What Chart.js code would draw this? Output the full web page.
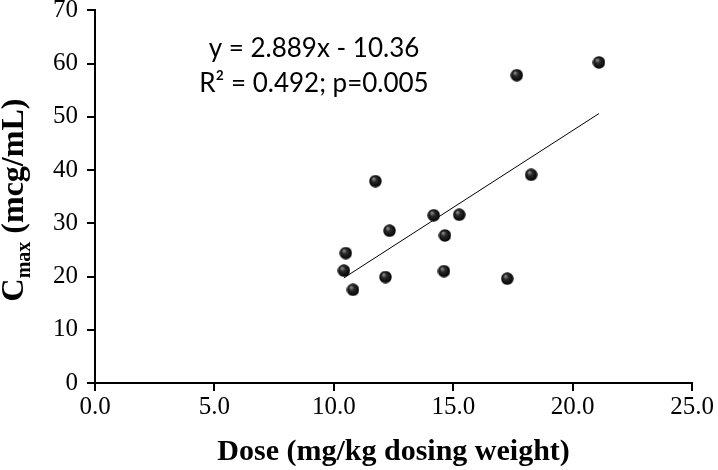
<!DOCTYPE html>
<html>
<head>
<meta charset="utf-8">
<script src="https://cdn.jsdelivr.net/npm/chart.js@4.4.0/dist/chart.umd.min.js"></script>
<style>
  html, body { margin: 0; padding: 0; background: #fff; }
  #wrap { width: 718px; height: 470px; position: relative; }
</style>
</head>
<body>
<div id="wrap"><canvas id="myChart"></canvas></div>
<script>
const ctx = document.getElementById('myChart');

// dose (mg/kg dosing weight) vs Cmax (mcg/mL)
const doses = [21.1, 17.66, 11.74, 18.26, 14.18, 15.25, 12.33, 14.65, 10.5, 10.42, 12.16, 14.61, 17.26, 10.8];
const cmax  = [60.2, 57.8, 37.9, 39.1, 31.5, 31.6, 28.6, 27.7, 24.4, 21.1, 19.9, 21.0, 19.6, 17.5];

// ends of the fitted line
const trendX = [10.42, 21.1];
const trendY = [19.74, 50.6];

const xTicks = [0, 5, 10, 15, 20, 25];
const yTicks = [0, 10, 20, 30, 40, 50, 60, 70];

const fitText = ['y = 2.889x - 10.36', 'R\u00B2 = 0.492; p=0.005'];

const serif = '"Liberation Serif", "Times New Roman", serif';

// little shaded ball for the markers
function makeBall(size) {
  const c = document.createElement('canvas');
  c.width = size; c.height = size;
  const g = c.getContext('2d');
  const r = size / 2;
  const grad = g.createRadialGradient(r * 0.7, r * 0.6, 0.5, r, r, r);
  grad.addColorStop(0, '#8a8a8a');
  grad.addColorStop(0.35, '#2a2a2a');
  grad.addColorStop(1, '#000');
  g.fillStyle = grad;
  g.beginPath();
  g.arc(r, r, r - 0.3, 0, Math.PI * 2);
  g.fill();
  return c;
}
const ball = makeBall(13);

// y title has a subscript, and the fit text sits in the plot, so draw them by hand
const extraText = {
  id: 'extraText',
  afterDraw(chart) {
    const c = chart.ctx;
    c.save();
    c.fillStyle = '#000';

    // y axis title: C_max (mcg/mL)
    const big = 'bold 32px ' + serif;
    const small = 'bold 20px ' + serif;
    c.font = big;
    const wC = c.measureText('C').width;
    const wRest = c.measureText(' (mcg/mL)').width;
    c.font = small;
    const wSub = c.measureText('max').width;
    const total = wC + wSub + wRest;
    c.translate(23, 200);
    c.rotate(-Math.PI / 2);
    c.textBaseline = 'alphabetic';
    c.textAlign = 'left';
    let x = -total / 2;
    c.font = big;
    c.fillText('C', x, 0);
    x += wC;
    c.font = small;
    c.fillText('max', x, 7);
    x += wSub;
    c.font = big;
    c.fillText(' (mcg/mL)', x, 0);
    c.restore();

    // regression text
    c.save();
    c.fillStyle = '#000';
    c.font = '26px Lato, "Open Sans", sans-serif';
    c.textAlign = 'center';
    c.textBaseline = 'alphabetic';
    c.fillText(fitText[0], 314, 57);
    c.fillText(fitText[1], 314, 92);
    c.restore();
  }
};

new Chart(ctx, {
  type: 'scatter',
  data: {
    datasets: [{
      label: 'Cmax',
      data: doses.map((d, i) => ({x: d, y: cmax[i]})),
      pointStyle: ball,
      pointRadius: 6.5,
      pointHoverRadius: 6.5
    }, {
      type: 'line',
      label: 'fit',
      data: trendX.map((d, i) => ({x: d, y: trendY[i]})),
      borderColor: '#000',
      borderWidth: 1,
      pointRadius: 0,
      fill: false
    }]
  },
  options: {
    responsive: true,
    maintainAspectRatio: false,
    animation: false,
    layout: { padding: { top: 10, right: 25, left: 0, bottom: 0 } },
    plugins: {
      legend: { display: false },
      tooltip: { enabled: false }
    },
    scales: {
      x: {
        type: 'linear',
        min: 0,
        max: 25,
        afterBuildTicks: s => { s.ticks = xTicks.map(v => ({value: v})); },
        afterFit: s => { s.height = 87; },
        grid: { display: true, drawOnChartArea: false, drawTicks: true, tickLength: 8, color: '#000', lineWidth: 2 },
        border: { color: '#000', width: 2 },
        ticks: {
          color: '#000',
          padding: 4,
          maxRotation: 0,
          font: { family: serif, size: 25, lineHeight: 1 },
          callback: v => v.toFixed(1)
        },
        title: {
          display: true,
          text: 'Dose (mg/kg dosing weight)',
          color: '#000',
          padding: { top: 0, bottom: 0 },
          font: { family: serif, size: 30, weight: 'bold', lineHeight: 1.2 }
        }
      },
      y: {
        type: 'linear',
        min: 0,
        max: 70,
        afterBuildTicks: s => { s.ticks = yTicks.map(v => ({value: v})); },
        afterFit: s => { s.width = 95; },
        grid: { display: true, drawOnChartArea: false, drawTicks: true, tickLength: 8, color: '#000', lineWidth: 2 },
        border: { color: '#000', width: 2 },
        ticks: {
          color: '#000',
          padding: 9,
          font: { family: serif, size: 25, lineHeight: 0.1 }
        }
      }
    }
  },
  plugins: [extraText]
});
</script>
</body>
</html>
